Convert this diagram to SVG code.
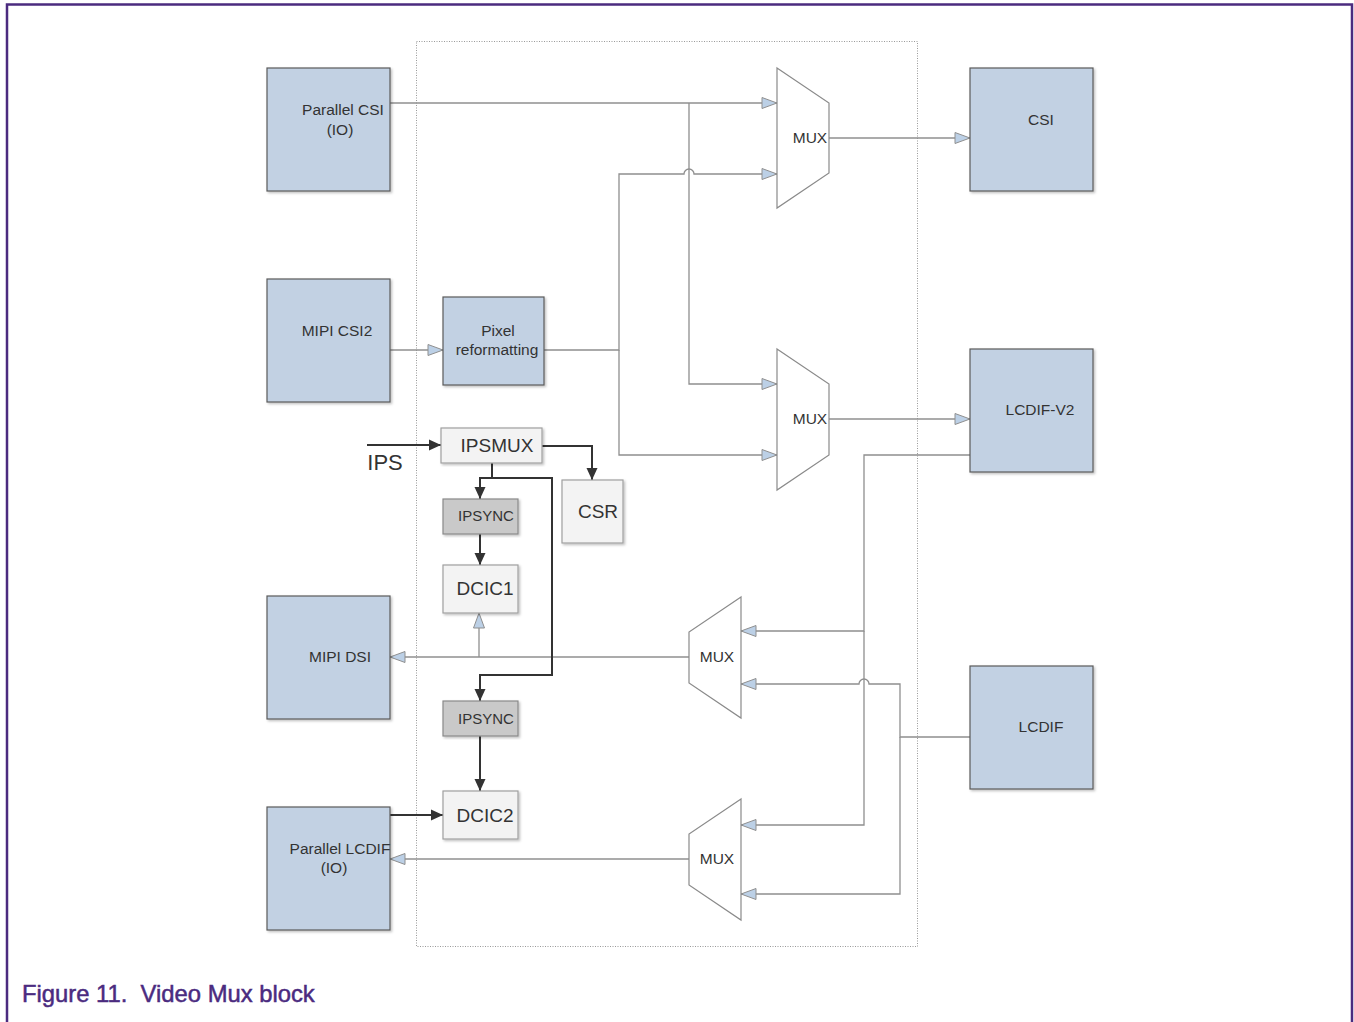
<svg xmlns="http://www.w3.org/2000/svg" width="1354" height="1022" viewBox="0 0 1354 1022">
<defs>
<style>
.blue{fill:#c2d1e3;stroke:#5a5a5a;stroke-width:1.2}
.grey{fill:#f3f3f3;stroke:#a0a0a0;stroke-width:1.2}
.sync{fill:#c9c9c9;stroke:#8a8a8a;stroke-width:1.2}
.mux{fill:#fff;stroke:#8a8a8a;stroke-width:1.2}
.t{font-family:"Liberation Sans",Arial,sans-serif;font-size:15.5px;fill:#333;text-anchor:middle}
.tb{font-family:"Liberation Sans",Arial,sans-serif;font-size:19px;fill:#333;text-anchor:middle}
.ts{font-family:"Liberation Sans",Arial,sans-serif;font-size:15px;fill:#333;text-anchor:middle}
.lc{fill:none;stroke:#8f8f8f;stroke-width:1.3}
.dc{fill:none;stroke:#333;stroke-width:2}
</style>
<marker id="la" markerUnits="userSpaceOnUse" markerWidth="18" markerHeight="14" refX="16" refY="6.5" orient="auto">
<path d="M1,1 L16,6.5 L1,12 Z" fill="#bcd0e6" stroke="#8f8f8f" stroke-width="1"/>
</marker>
<marker id="da" markerUnits="userSpaceOnUse" markerWidth="14" markerHeight="14" refX="12" refY="6" orient="auto">
<path d="M0,0.5 L12,6 L0,11.5 Z" fill="#333"/>
</marker>
<filter id="sh" x="-10%" y="-10%" width="120%" height="120%">
<feDropShadow dx="1.5" dy="1.5" stdDeviation="1" flood-color="#000" flood-opacity="0.25"/>
</filter>
</defs>
<rect width="1354" height="1022" fill="#fff"/>
<path d="M7,1022 V4.5 H1352 V1022" fill="none" stroke="#4b2b7f" stroke-width="2.5"/>
<rect x="416.5" y="41.5" width="501" height="905" fill="none" stroke="#999" stroke-width="1" stroke-dasharray="1,1.5"/>

<g id="connectors">
<path class="lc" d="M390,103 H777" marker-end="url(#la)"/>
<path class="lc" d="M689,103 V384 H777" marker-end="url(#la)"/>
<path class="lc" d="M544,350 H619 V174 H684 A5,5 0 0 1 694,174 H777" marker-end="url(#la)"/>
<path class="lc" d="M619,350 V455 H777" marker-end="url(#la)"/>
<path class="lc" d="M390,350 H443" marker-end="url(#la)"/>
<path class="lc" d="M829,138 H970" marker-end="url(#la)"/>
<path class="lc" d="M829,419 H970" marker-end="url(#la)"/>
<path class="lc" d="M970,455 H864 V631 H741" marker-end="url(#la)"/>
<path class="lc" d="M864,631 V825 H741" marker-end="url(#la)"/>
<path class="lc" d="M970,737 H900 V684 H869 A5,5 0 0 0 859,684 H741" marker-end="url(#la)"/>
<path class="lc" d="M900,737 V894 H741" marker-end="url(#la)"/>
<path class="lc" d="M689,657 H390" marker-end="url(#la)"/>
<path class="lc" d="M479,657 V613" marker-end="url(#la)"/>
<path class="lc" d="M689,859 H390" marker-end="url(#la)"/>
<path class="dc" d="M367,445 H441" marker-end="url(#da)"/>
<path class="dc" d="M542,446 H592 V480" marker-end="url(#da)"/>
<path class="dc" d="M492,463 V478 H480 V499" marker-end="url(#da)"/>
<path class="dc" d="M492,478 H552 V675 H480 V701" marker-end="url(#da)"/>
<path class="dc" d="M480,534 V565" marker-end="url(#da)"/>
<path class="dc" d="M480,736 V791" marker-end="url(#da)"/>
<path class="dc" d="M390,815 H443" marker-end="url(#da)"/>
</g>

<g id="parallel-csi"><rect class="blue" x="267" y="68" width="123" height="123" filter="url(#sh)"/><text class="t" x="343" y="115">Parallel CSI</text><text class="t" x="340" y="135">(IO)</text></g>
<g id="mipi-csi2"><rect class="blue" x="267" y="279" width="123" height="123" filter="url(#sh)"/><text class="t" x="337" y="336">MIPI CSI2</text></g>
<g id="mipi-dsi"><rect class="blue" x="267" y="596" width="123" height="123" filter="url(#sh)"/><text class="t" x="340" y="662">MIPI DSI</text></g>
<g id="parallel-lcdif"><rect class="blue" x="267" y="807" width="123" height="123" filter="url(#sh)"/><text class="t" x="340" y="854">Parallel LCDIF</text><text class="t" x="334" y="873">(IO)</text></g>
<g id="csi"><rect class="blue" x="970" y="68" width="123" height="123" filter="url(#sh)"/><text class="t" x="1041" y="125">CSI</text></g>
<g id="lcdif-v2"><rect class="blue" x="970" y="349" width="123" height="123" filter="url(#sh)"/><text class="t" x="1040" y="415">LCDIF-V2</text></g>
<g id="lcdif"><rect class="blue" x="970" y="666" width="123" height="123" filter="url(#sh)"/><text class="t" x="1041" y="732">LCDIF</text></g>
<g id="pixel-reformatting"><rect class="blue" x="443" y="297" width="101" height="88" filter="url(#sh)"/><text class="t" x="498" y="336">Pixel</text><text class="t" x="497" y="355">reformatting</text></g>

<g id="ipsmux"><rect class="grey" x="441" y="428" width="101" height="35" filter="url(#sh)"/><text class="tb" x="497" y="452">IPSMUX</text></g>
<g id="csr"><rect class="grey" x="562" y="480" width="61" height="63" filter="url(#sh)"/><text class="tb" x="598" y="518">CSR</text></g>
<g id="ipsync1"><rect class="sync" x="443" y="499" width="75" height="35" filter="url(#sh)"/><text class="ts" x="486" y="521">IPSYNC</text></g>
<g id="dcic1"><rect class="grey" x="443" y="565" width="75" height="48" filter="url(#sh)"/><text class="tb" x="485" y="595">DCIC1</text></g>
<g id="ipsync2"><rect class="sync" x="443" y="701" width="75" height="35" filter="url(#sh)"/><text class="ts" x="486" y="724">IPSYNC</text></g>
<g id="dcic2"><rect class="grey" x="443" y="791" width="75" height="48" filter="url(#sh)"/><text class="tb" x="485" y="822">DCIC2</text></g>

<g id="mux1"><path class="mux" d="M777,68 L829,103 V173 L777,208 Z"/><text class="t" x="810" y="143">MUX</text></g>
<g id="mux2"><path class="mux" d="M777,349 L829,384 V455 L777,490 Z"/><text class="t" x="810" y="424">MUX</text></g>
<g id="mux3"><path class="mux" d="M741,597 L689,632 V683 L741,718 Z"/><text class="t" x="717" y="662">MUX</text></g>
<g id="mux4"><path class="mux" d="M741,799 L689,834 V885 L741,920 Z"/><text class="t" x="717" y="864">MUX</text></g>

<text id="ips-label" x="385" y="470" style="font-family:'Liberation Sans',Arial,sans-serif;font-size:22px;fill:#333;text-anchor:middle">IPS</text>
<text id="caption" x="22" y="1002" xml:space="preserve" style="font-family:'Liberation Sans',Arial,sans-serif;font-size:23.8px;fill:#4b2b7f;stroke:#4b2b7f;stroke-width:0.5">Figure 11.  Video Mux block</text>
</svg>
